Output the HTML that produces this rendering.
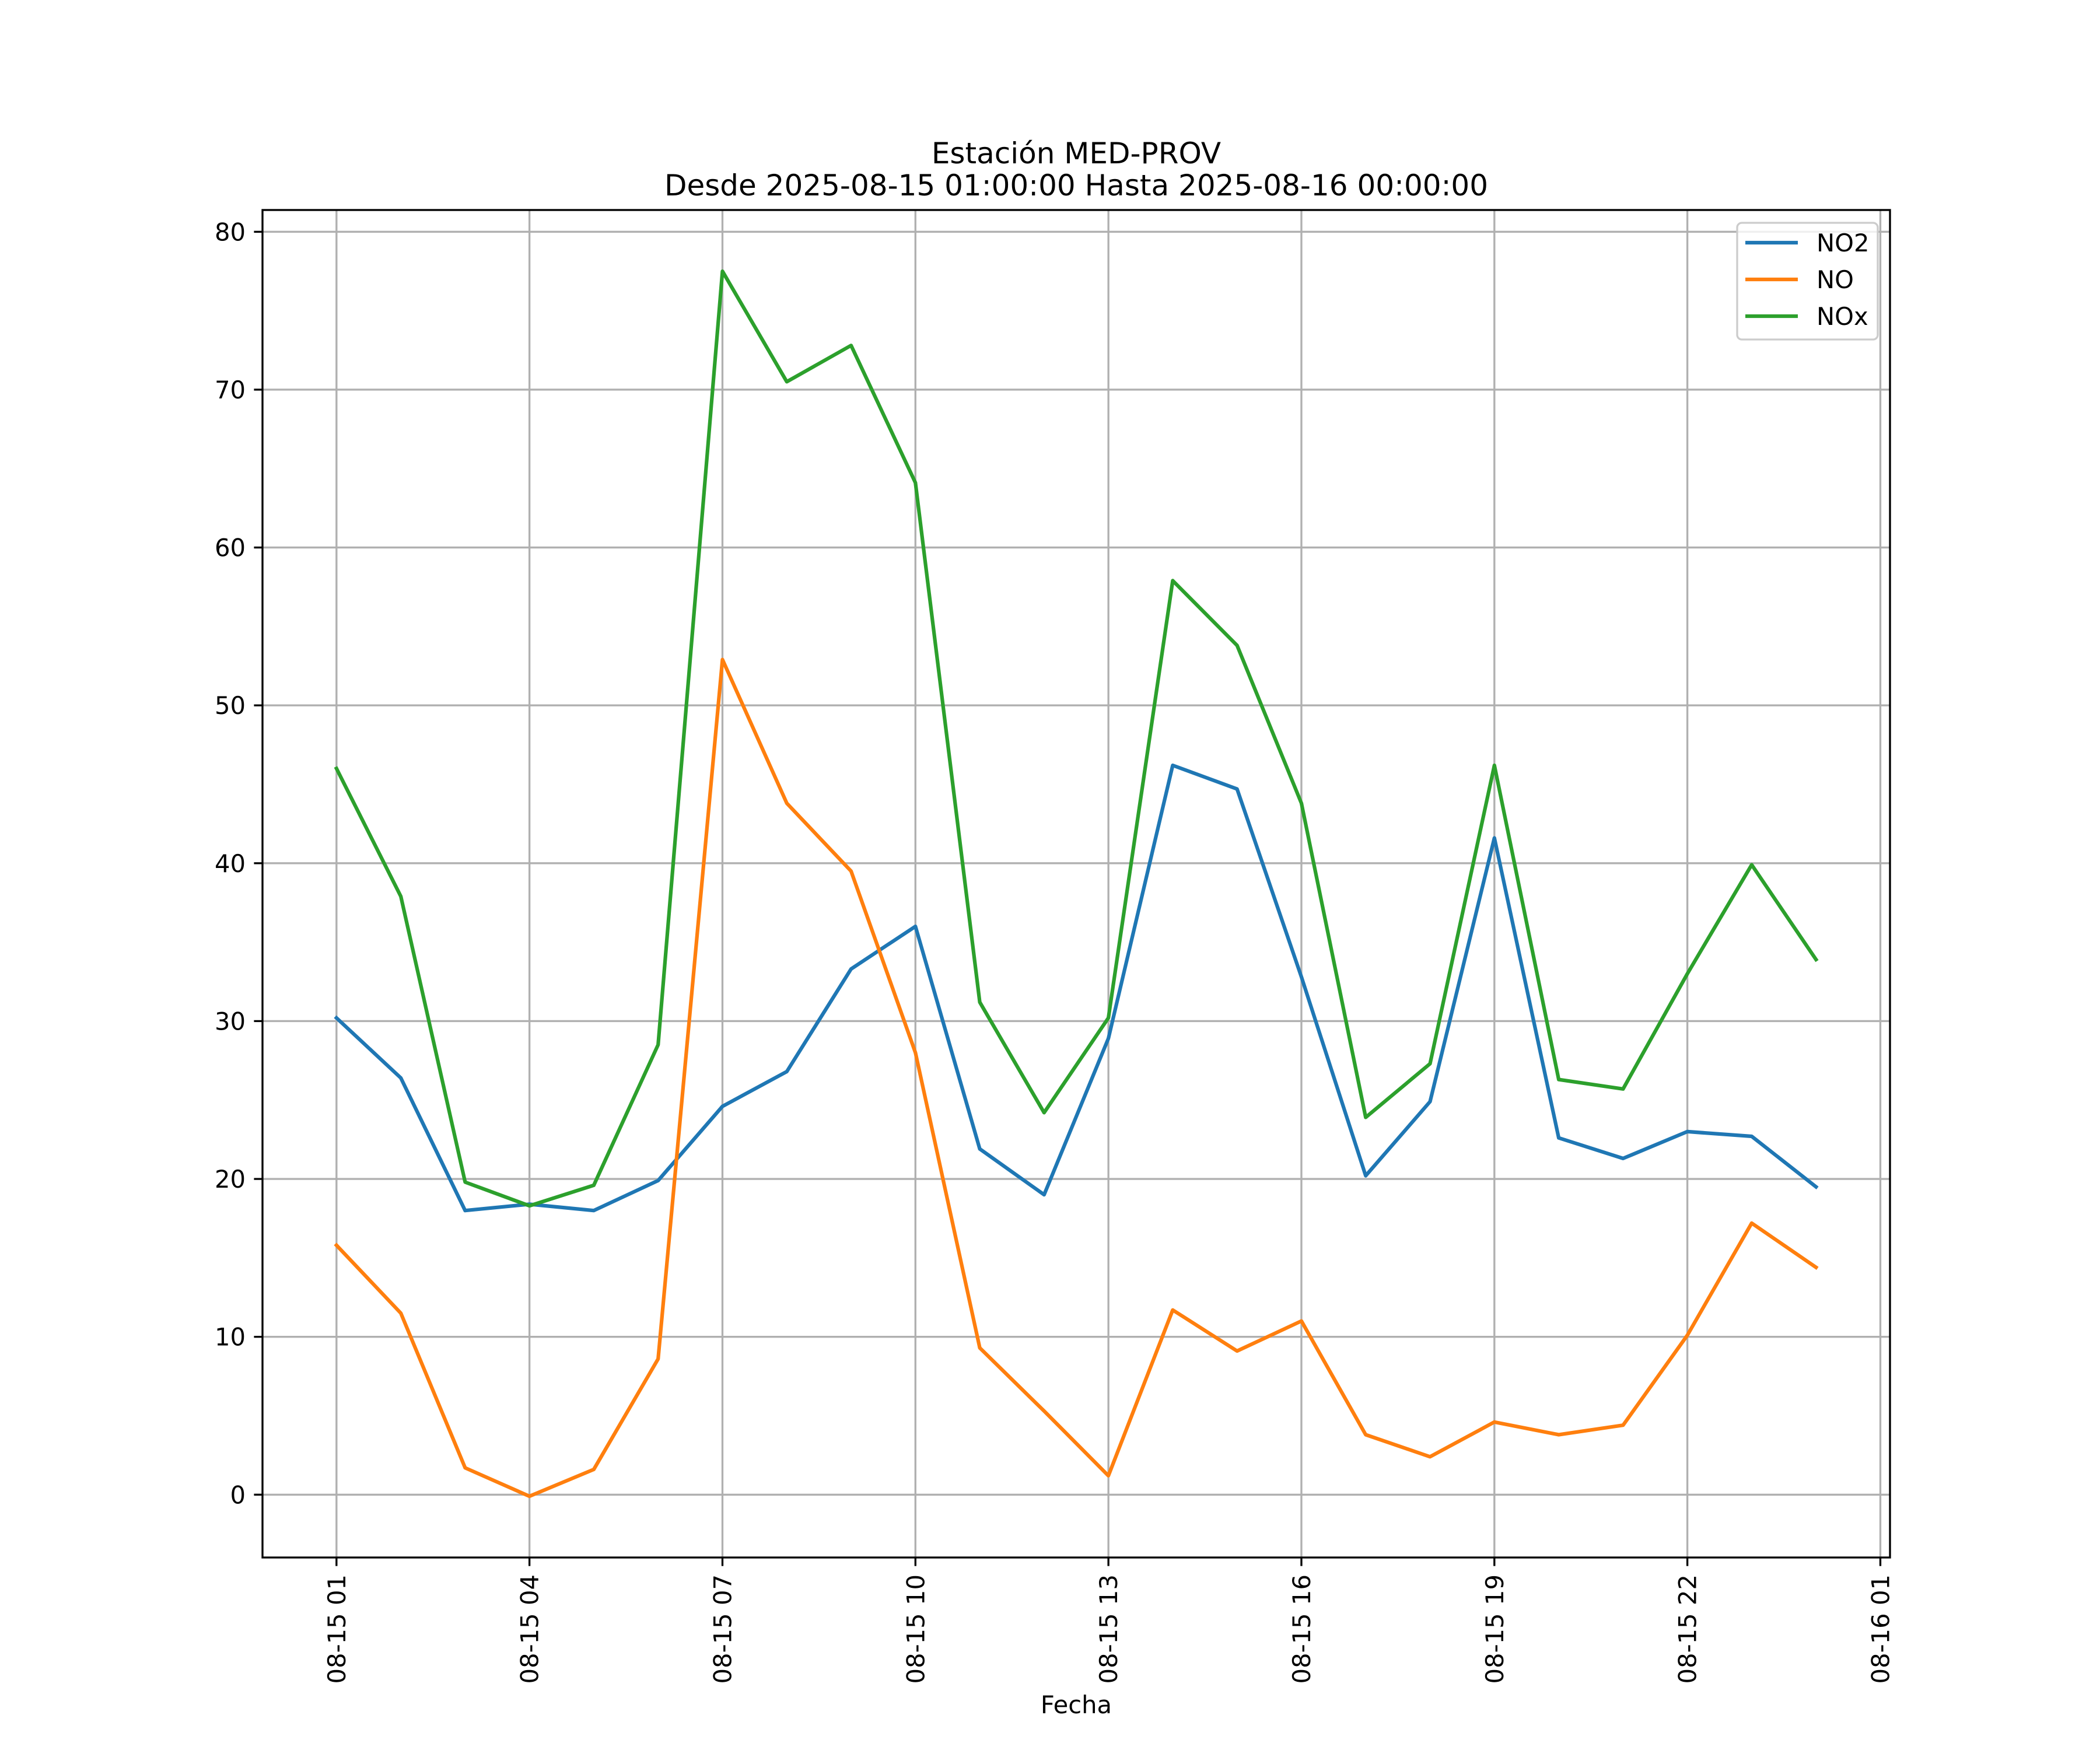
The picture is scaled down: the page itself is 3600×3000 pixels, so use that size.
<!DOCTYPE html>
<html><head><meta charset="utf-8"><style>
html,body{margin:0;padding:0;background:#fff;}
svg{display:block;}
text{font-family:"DejaVu Sans","Liberation Sans",sans-serif;fill:#000;}
</style></head><body>
<svg id="chart" width="3600" height="3000" viewBox="0 0 3600 3000" xmlns="http://www.w3.org/2000/svg">
<rect width="3600" height="3000" fill="#fff"/>
<g id="grid"></g>
<g id="series"></g>
<rect x="450" y="360" width="2790" height="2310" fill="none" stroke="#000" stroke-width="3.33"/>
<g id="ticks"></g>
<text x="1845" y="280" font-size="50" text-anchor="middle">Estación MED-PROV</text>
<text x="1845" y="335" font-size="50" text-anchor="middle">Desde 2025-08-15 01:00:00 Hasta 2025-08-16 00:00:00</text>
<text x="1845" y="2937" font-size="41.7" text-anchor="middle">Fecha</text>
<g>
<rect x="2978" y="382" width="241" height="200" rx="8" fill="#fff" fill-opacity="0.8" stroke="#cccccc" stroke-width="3.33"/>
<line x1="2992" y1="416" x2="3082" y2="416" stroke="#1f77b4" stroke-width="6.25"/>
<text x="3114" y="431" font-size="41.7">NO2</text>
<line x1="2992" y1="479" x2="3082" y2="479" stroke="#ff7f0e" stroke-width="6.25"/>
<text x="3114" y="494" font-size="41.7">NO</text>
<line x1="2992" y1="542" x2="3082" y2="542" stroke="#2ca02c" stroke-width="6.25"/>
<text x="3114" y="557" font-size="41.7">NOx</text>
</g>
</svg>
<script>
const hours = [1,2,3,4,5,6,7,8,9,10,11,12,13,14,15,16,17,18,19,20,21,22,23,24];
const no2 = [30.2,26.4,18.0,18.4,18.0,19.9,24.6,26.8,33.3,36.0,21.9,19.0,28.9,46.2,44.7,32.8,20.2,24.9,41.6,22.6,21.3,23.0,22.7,19.5];
const no = [15.8,11.5,1.7,-0.1,1.6,8.6,52.9,43.8,39.5,28.0,9.3,5.3,1.2,11.7,9.1,11.0,3.8,2.4,4.6,3.8,4.4,10.1,17.2,14.4];
const nox = [46.0,37.9,19.8,18.3,19.6,28.5,77.5,70.5,72.8,64.1,31.2,24.2,30.2,57.9,53.8,43.8,23.9,27.3,46.2,26.3,25.7,33.0,39.9,33.9];
const yTicks = [0,10,20,30,40,50,60,70,80];
const xTickHours = [1,4,7,10,13,16,19,22,25];
const xTickLabels = ["08-15 01","08-15 04","08-15 07","08-15 10","08-15 13","08-15 16","08-15 19","08-15 22","08-16 01"];

const NS="http://www.w3.org/2000/svg";
const L=450,R=3240,T=360,B=2670;
const allV=no2.concat(no,nox);
const vmin=Math.min(...allV), vmax=Math.max(...allV);
const ymin=vmin-0.05*(vmax-vmin), ymax=vmax+0.05*(vmax-vmin);
const hmin=Math.min(...hours), hmax=Math.max(...hours);
const xmin=hmin-0.05*(hmax-hmin), xmax=hmax+0.05*(hmax-hmin);
const xs=h=>L+(h-xmin)/(xmax-xmin)*(R-L);
const ys=v=>B-(v-ymin)/(ymax-ymin)*(B-T);
function mk(tag,attrs,parent){const e=document.createElementNS(NS,tag);for(const k in attrs)e.setAttribute(k,attrs[k]);parent.appendChild(e);return e;}
const grid=document.getElementById('grid'),ticks=document.getElementById('ticks'),series=document.getElementById('series');
yTicks.forEach(v=>{
  const y=ys(v);
  const g=mk('line',{x1:L,x2:R,y1:y,y2:y,stroke:'#b0b0b0','stroke-width':3.33},grid);
  
  
  const t=mk('line',{x1:L-14.6,x2:L,y1:y,y2:y,stroke:'#000','stroke-width':3.33},ticks);
  
  
  const tx=mk('text',{x:L-29,y:y+15,'font-size':41.7,'text-anchor':'end'},ticks);
  tx.textContent=v;
  
  
});
xTickHours.forEach((h,i)=>{
  const x=xs(h);
  const g=mk('line',{x1:x,x2:x,y1:T,y2:B,stroke:'#b0b0b0','stroke-width':3.33},grid);
  
  
  const t=mk('line',{x1:x,x2:x,y1:B,y2:B+14.6,stroke:'#000','stroke-width':3.33},ticks);
  
  
  const tx=mk('text',{x:0,y:0,'font-size':41.7,'text-anchor':'end',transform:`translate(${x+15},${B+29}) rotate(-90)`},ticks);
  tx.textContent=xTickLabels[i];
  
  
});
[[no2,'#1f77b4','line-no2'],[no,'#ff7f0e','line-no'],[nox,'#2ca02c','line-nox']].forEach(([d,c,n])=>{
  const pts=d.map((v,i)=>xs(hours[i]).toFixed(1)+','+ys(v).toFixed(1)).join(' ');
  const p=mk('polyline',{points:pts,fill:'none',stroke:c,'stroke-width':6.25,'stroke-linejoin':'round','stroke-linecap':'square'},series);
  
  
});
</script>
</body></html>
